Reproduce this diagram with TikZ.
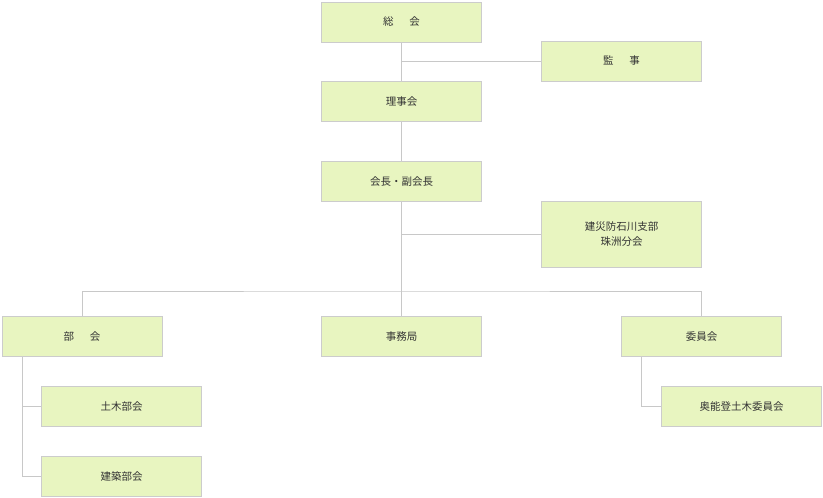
\documentclass[tikz,border=0pt]{standalone}
\usepackage{fontspec}
\newfontfamily\jp{Noto Sans CJK JP}
\definecolor{boxfill}{HTML}{E8F5C0}
\definecolor{boxline}{HTML}{CCCCCC}
\definecolor{lin}{HTML}{C8C8C8}
\definecolor{txt}{HTML}{333333}
\begin{document}
\begin{tikzpicture}[x=1pt,y=-1pt,
  bx/.style={draw=boxline,fill=boxfill,line width=1pt,minimum width=160pt,minimum height=40pt,inner sep=0pt,font=\jp\fontsize{10.5}{15}\selectfont,text=txt,align=center},
  ln/.style={draw=lin,line width=1pt}]
\useasboundingbox (0,0) rectangle (823,498);
\node[bx] (sokai) at (401.5,22) {総\hspace{1.5em}会};
\node[bx] (kanji) at (621.5,61) {監\hspace{1.5em}事};
\node[bx] (riji) at (401.5,101.5) {理事会};
\node[bx] (kaicho) at (401.5,181.5) {会長・副会長};
\node[bx,minimum height=66pt] (kensai) at (621.5,234) {建災防石川支部\\珠洲分会};
\node[bx] (bukai) at (82,336.5) {部\hspace{1.5em}会};
\node[bx] (jimu) at (401.5,336.5) {事務局};
\node[bx] (iin) at (701.5,336.5) {委員会};
\node[bx] (doboku) at (121.5,406.5) {土木部会};
\node[bx] (kenchiku) at (121.5,476.5) {建築部会};
\node[bx] (oku) at (741.5,406.5) {奥能登土木委員会};
\coordinate (h) at (401.5,291);
\draw[ln] (sokai.south) -- (riji.north);
\draw[ln] (401.5,61) -- (kanji.west);
\draw[ln] (riji.south) -- (kaicho.north);
\draw[ln] (kaicho.south) -- (jimu.north);
\draw[ln] (401.5,234) -- (kensai.west);
\draw[ln] (bukai.north) |- (h) -| (iin.north);
\draw[ln] (22,357) |- (kenchiku.west);
\draw[ln] (22,406.5) -- (doboku.west);
\draw[ln] (641.5,357) |- (oku.west);
\end{tikzpicture}
\end{document}
